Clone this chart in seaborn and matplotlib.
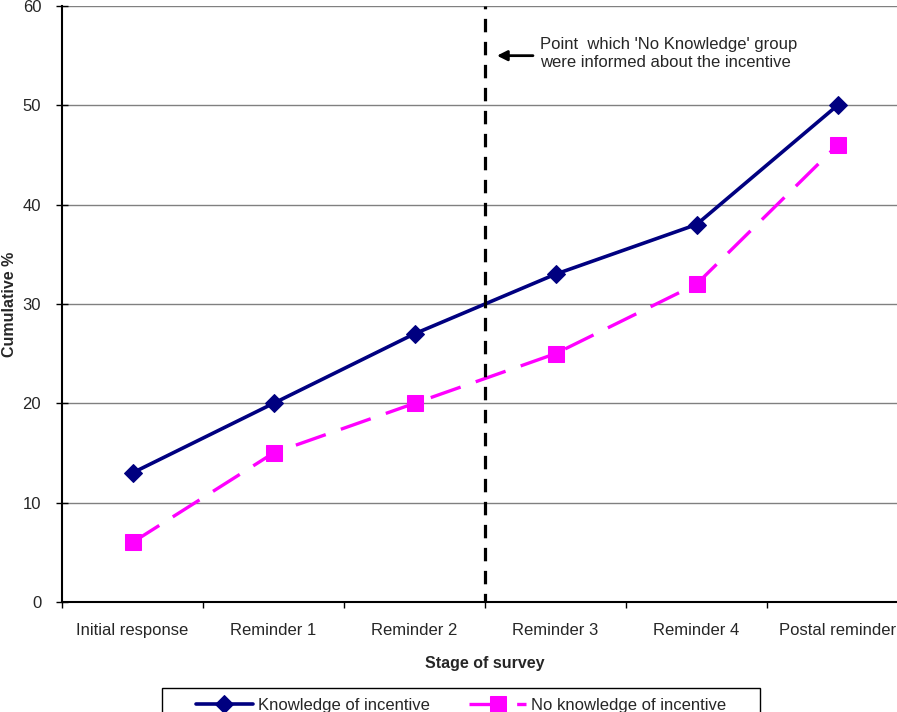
import numpy as np
import pandas as pd
import seaborn as sns
import matplotlib.pyplot as plt
from matplotlib.patches import Rectangle

stages = ["Initial response", "Reminder 1", "Reminder 2", "Reminder 3",
          "Reminder 4", "Postal reminder"]
knowledge = [13, 20, 27, 33, 38, 50]
no_knowledge = [6, 15, 20, 25, 32, 46]

sns.set_style("white")
plt.rcParams["font.family"] = ["Liberation Sans", "DejaVu Sans"]

df = pd.DataFrame({"pos": np.arange(len(stages)),
                   "Knowledge of incentive": knowledge,
                   "No knowledge of incentive": no_knowledge})

fig = plt.figure(figsize=(8.97, 7.12), dpi=100)
# plot area runs a little past the right edge, as in the original
ax = fig.add_axes([62 / 897, 1 - 602 / 712, 846 / 897, 596 / 712])

sns.lineplot(data=df, x="pos", y="Knowledge of incentive", ax=ax,
             color="#000080", lw=2.6, marker="D", markersize=9,
             markeredgecolor="#000080", label="Knowledge of incentive")
sns.lineplot(data=df, x="pos", y="No knowledge of incentive", ax=ax,
             color="#FF00FF", lw=2.4, marker="s", markersize=11,
             markeredgecolor="#FF00FF", dashes=(9.5, 4.8),
             label="No knowledge of incentive")

ax.set_xlim(-0.5, len(stages) - 0.5)
ax.set_ylim(0, 60)
ax.set_yticks(range(0, 61, 10))
ax.yaxis.grid(True, color="#808080", lw=1)
ax.set_axisbelow(True)

ax.set_xticks(np.arange(len(stages)))
ax.set_xticklabels(stages, fontsize=12)
ax.set_xticks(np.arange(len(stages) + 1) - 0.5, minor=True)
ax.tick_params(axis="x", which="major", length=0, pad=15)
ax.tick_params(axis="x", which="minor", length=4, width=1, color="black",
               direction="out", bottom=True)
ax.tick_params(axis="y", length=8, width=1, color="black", direction="inout",
               left=True, labelsize=12, pad=11)

for s in ["top", "right"]:
    ax.spines[s].set_visible(False)
for s in ["left", "bottom"]:
    ax.spines[s].set_color("black")
    ax.spines[s].set_linewidth(1.5)

ax.axvline(2.5, color="black", lw=2.3, linestyle=(1.5, (4.2, 3.0)))
ax.annotate("", xy=(2.565, 55), xytext=(2.86, 55),
            arrowprops=dict(arrowstyle="-|>", color="black", lw=2,
                            mutation_scale=15))
ax.text(2.89, 55.2, "Point  which 'No Knowledge' group\nwere informed about the incentive",
        fontsize=12, va="center", ha="left", linespacing=1.2)

ax.set_xlabel("Stage of survey", fontsize=11.5, fontweight="bold", labelpad=13)
ax.set_ylabel("Cumulative %", fontsize=11.5, fontweight="bold")
ax.yaxis.set_label_coords(-45 / 846, 0.5)

ax.get_legend().remove()
handles, labels = ax.get_legend_handles_labels()
leg = fig.legend(handles, labels, loc="upper center", ncol=2,
                 bbox_to_anchor=(461 / 897, 1 - 688 / 712), fontsize=12,
                 frameon=False, handlelength=3.4, columnspacing=2.4,
                 borderpad=0.6, handletextpad=0.3, borderaxespad=0)
# legend box is wider than the entries and runs off the bottom edge
fig.patches.append(Rectangle((162 / 897, -10 / 712), 598 / 897, 34 / 712,
                             transform=fig.transFigure, fill=False,
                             edgecolor="black", lw=1))

fig.savefig("out.png", dpi=100)
